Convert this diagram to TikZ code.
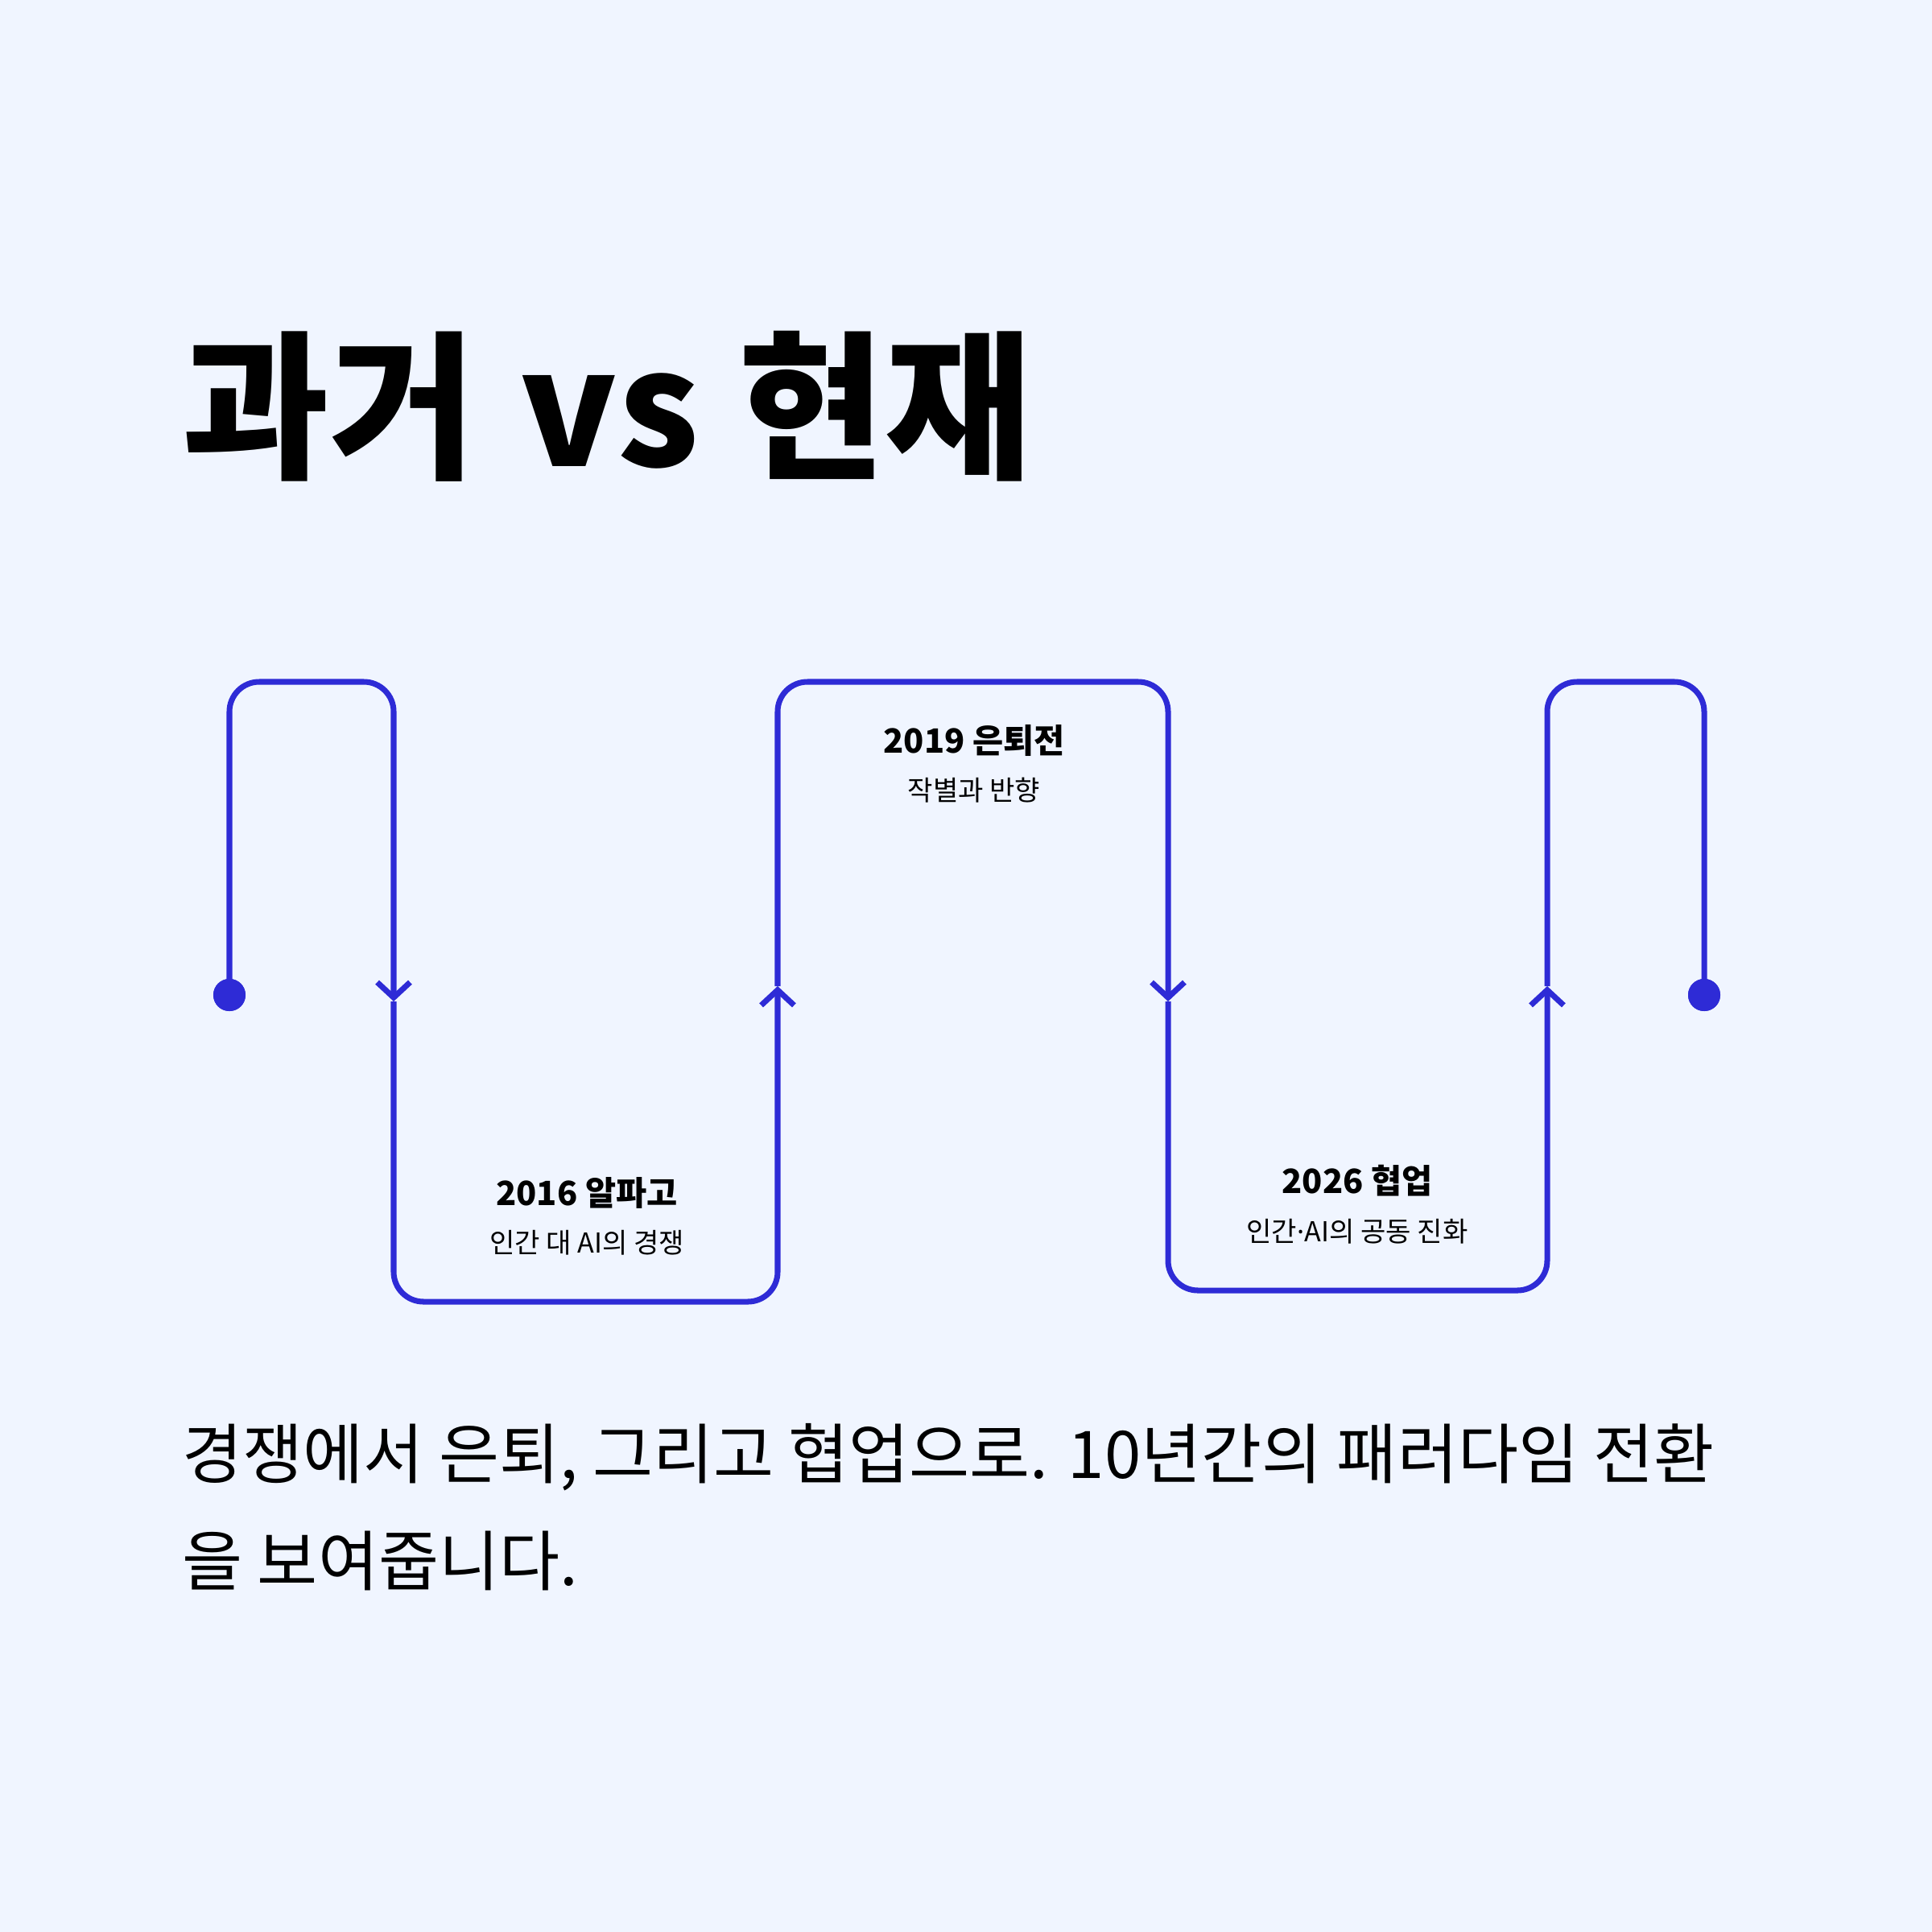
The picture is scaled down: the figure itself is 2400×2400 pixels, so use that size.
\documentclass[tikz,border=0pt]{standalone}
\usepackage{fontspec}
\newfontfamily\kr{Noto Sans CJK KR}
\newfontfamily\latn{Noto Sans}
\usetikzlibrary{arrows.meta}
\definecolor{bgc}{HTML}{F0F5FF}
\definecolor{lnc}{HTML}{2E2BD6}
\begin{document}
\begin{tikzpicture}[x=0.01cm,y=-0.01cm,
  flow/.style={draw=lnc,line width=2pt,rounded corners=0.37cm},
  flowarr/.style={flow,-{Straight Barb[length=5.4pt,width=11.6pt]}},
  dotnode/.style={circle,fill=lnc,minimum size=0.4cm,inner sep=0pt},
  yearlbl/.style={font=\kr\bfseries\fontsize{11.8pt}{14pt}\selectfont,inner sep=0pt,text=black},
  sublbl/.style={font=\kr\fontsize{9.7pt}{11pt}\selectfont,inner sep=0pt,text=black},
  titlelbl/.style={font=\kr\bfseries\fontsize{56.5pt}{60pt}\selectfont,inner sep=0pt,anchor=west},
  paralbl/.style={font=\kr\fontsize{23.2pt}{27pt}\selectfont,inner sep=0pt,anchor=west}]
\fill[bgc] (0,0) rectangle (2400,2400);
\useasboundingbox (0,0) rectangle (2400,2400);
% title
\node[titlelbl] (title) at (226,505) {과거 \hspace{0.09cm}vs \hspace{0.03cm}현재};
% dots
\node[dotnode] (d1) at (285,1236) {};
\node[dotnode] (d2) at (2117,1236) {};
% arrow points
\coordinate (a1) at (489,1244);
\coordinate (a2) at (966,1225);
\coordinate (a3) at (1451,1244);
\coordinate (a4) at (1922,1225);
% path
\draw[flowarr] (d1.center) -- (285,847) -- (489,847) -- (a1);
\draw[flowarr] (a1) -- (489,1617) -- (966,1617) -- (a2);
\draw[flowarr] (a2) -- (966,847) -- (1451,847) -- (a3);
\draw[flowarr] (a3) -- (1451,1603) -- (1922,1603) -- (a4);
\draw[flow] (a4) -- (1922,847) -- (2117,847) -- (d2.center);
\node[dotnode] at (d1) {};
\node[dotnode] at (d2) {};
% labels
\node[yearlbl] (y1) at (729,1482) {2016 알파고};
\node[sublbl] (s1) at (729,1544) {인간 대 AI의 경쟁};
\node[yearlbl] (y2) at (1210,920) {2019 은퇴전};
\node[sublbl] (s2) at (1210,982) {작별과 반향};
\node[yearlbl] (y3) at (1686,1467) {2026 협업};
\node[sublbl] (s3) at (1686,1530) {인간{\latn·}AI의 공동 진화};
% paragraph
\node[paralbl] (p1) at (226,1810) {경쟁에서 은퇴, 그리고 협업으로. 10년간의 패러다임 전환};
\node[paralbl] (p2) at (226,1939) {을 보여줍니다.};
\end{tikzpicture}
\end{document}
